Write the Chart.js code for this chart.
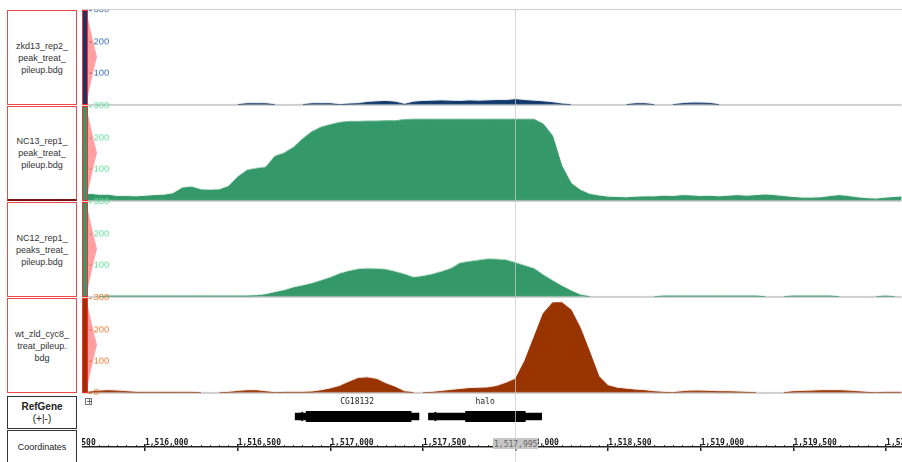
<!DOCTYPE html>
<html>
<head>
<meta charset="utf-8">
<script src="https://cdn.jsdelivr.net/npm/chart.js@4.4.1/dist/chart.umd.min.js"></script>
<style>
  html, body { margin: 0; padding: 0; width: 902px; height: 462px; overflow: hidden; background: #fff; }
  canvas { position: absolute; z-index: 1; }
  .abs { position: absolute; }
  #panel { position: absolute; left: 0; top: 0; width: 82px; height: 462px; background: #fff; z-index: 5; }
  .box { position: absolute; left: 7px; width: 70px; box-sizing: border-box; display: flex; align-items: center; justify-content: center; text-align: center; font-family: "Liberation Sans", sans-serif; font-size: 9px; line-height: 12px; color: #333; }
  .track { border: 1.5px solid #ec4848; }
</style>
</head>
<body>
<div id="panel"></div>
<script>
// genomic positions (bp) of the sampled coverage values
const positions = [
  1515650, 1515700, 1515750, 1515800, 1515850, 1515900, 1515950, 1516000, 1516050, 1516100,
  1516150, 1516200, 1516250, 1516300, 1516350, 1516400, 1516450, 1516500, 1516550, 1516600,
  1516650, 1516700, 1516750, 1516800, 1516850, 1516900, 1516950, 1517000, 1517050, 1517100,
  1517150, 1517200, 1517250, 1517300, 1517350, 1517400, 1517450, 1517500, 1517550, 1517600,
  1517650, 1517700, 1517750, 1517800, 1517850, 1517900, 1517950, 1518000, 1518050, 1518100,
  1518150, 1518200, 1518250, 1518300, 1518350, 1518400, 1518450, 1518500, 1518550, 1518600,
  1518650, 1518700, 1518750, 1518800, 1518850, 1518900, 1518950, 1519000, 1519050, 1519100,
  1519150, 1519200, 1519250, 1519300, 1519350, 1519400, 1519450, 1519500, 1519550, 1519600,
  1519650, 1519700, 1519750, 1519800, 1519850, 1519900, 1519950, 1520000, 1520050, 1520100
];

const zkd13Rep2 = [
  0, 0, 0, 0, 0, 0, 0, 0, 0, 0,
  0, 0, 0, 0, 0, 0, 0, 0, 3, 3,
  3, 0, 0, 0, 0, 3, 3, 3, 0, 2,
  3, 7, 9, 10, 8, 1, 8, 10, 11, 12,
  11, 10, 12, 11, 12, 13, 13, 16, 13, 11,
  9, 6, 2, 0, 0, 0, 0, 0, 0, 0,
  3, 3, 0, 0, 0, 3, 5, 5, 4, 0,
  0, 0, 0, 0, 0, 0, 0, 0, 0, 0,
  0, 0, 0, 0, 0, 0, 0, 0, 0, 0
];

const nc13Rep1 = [
  15, 20, 17, 17, 13, 13, 12, 14, 16, 17,
  22, 40, 43, 34, 33, 34, 45, 75, 96, 101,
  105, 140, 150, 168, 195, 218, 232, 240, 247, 250,
  250, 251, 251, 252, 252, 256, 257, 257, 257, 257,
  257, 257, 257, 257, 257, 257, 257, 257, 257, 257,
  242, 205, 110, 55, 33, 20, 15, 11, 10, 9,
  11, 12, 12, 14, 13, 16, 15, 13, 14, 12,
  14, 16, 14, 16, 18, 16, 13, 10, 8, 8,
  9, 13, 16, 13, 9, 6, 5, 8, 10, 12
];

const nc12Rep1 = [
  0, 0, 0, 2, 2, 2, 2, 2, 2, 2,
  2, 2, 2, 2, 2, 2, 2, 2, 2, 3,
  6, 13, 19, 28, 34, 41, 50, 60, 72, 80,
  86, 88, 87, 85, 78, 70, 60, 64, 70, 78,
  88, 105, 110, 114, 118, 117, 115, 106, 97, 88,
  68, 50, 33, 18, 5, 0, 0, 0, 0, 0,
  0, 0, 0, 2, 2, 2, 2, 2, 2, 2,
  2, 2, 2, 2, 0, 0, 0, 2, 2, 2,
  2, 2, 0, 0, 0, 0, 0, 2, 0, 0
];

const wtZldCyc8 = [
  0, 2, 5, 6, 5, 3, 1, 1, 1, 1,
  1, 1, 1, 0, 0, 0, 1, 4, 6, 6,
  3, 0, 1, 1, 1, 2, 6, 12, 20, 33,
  45, 47, 42, 28, 17, 3, 0, 0, 1, 4,
  7, 10, 13, 14, 15, 20, 30, 43, 100, 175,
  250, 284, 285, 262, 205, 130, 52, 22, 14, 11,
  8, 6, 3, 1, 0, 3, 5, 5, 4, 3,
  3, 2, 1, 0, 0, 0, 0, 3, 4, 5,
  6, 6, 6, 5, 3, 1, 0, 1, 1, 1
];

const yTickValues = [0, 100, 200, 300];

// RefGene models (both on the minus strand)
const geneNames = ['CG18132', 'halo'];
const geneTxStart = [1516795, 1517525];
const geneTxEnd = [1517473, 1518145];
const geneCdsStart = [1516855, 1517728];
const geneCdsEnd = [1517430, 1518055];

const coordTickValues = [1515500, 1516000, 1516500, 1517000, 1517500, 1518000, 1518500, 1519000, 1519500, 1520000];
const coordMinorStep = 50;
const cursorPos = 1517995;

const viewStart = 1515660;
const viewEnd = 1520086;

const tracks = [
  { name: ['zkd13_rep2_', 'peak_treat_', 'pileup.bdg'], values: zkd13Rep2, color: '#10386a', tick: '#3a6db0' },
  { name: ['NC13_rep1_', 'peak_treat_', 'pileup.bdg'], values: nc13Rep1, color: '#349868', tick: '#62e09c' },
  { name: ['NC12_rep1_', 'peaks_treat_', 'pileup.bdg'], values: nc12Rep1, color: '#349868', tick: '#62e09c' },
  { name: ['wt_zld_cyc8_', 'treat_pileup.', 'bdg'], values: wtZldCyc8, color: '#993300', tick: '#ea7c38' }
];
const trackTop = [10, 106, 202, 298];
const trackHeight = 94;

Chart.defaults.font.family = 'Liberation Sans';

const panel = document.getElementById('panel');

function addDiv(parent, cls, css, html) {
  const d = document.createElement('div');
  if (cls) d.className = cls;
  Object.assign(d.style, css);
  if (html) d.innerHTML = html;
  parent.appendChild(d);
  return d;
}

const trackCharts = tracks.map((t, i) => {
  const top = trackTop[i];
  const box = addDiv(panel, 'box track', { top: top + 'px', height: (trackHeight + 1) + 'px' }, t.name.join('<br>'));
  if (i === 1) box.style.borderBottom = '2px solid #7a1414';

  // colour strip and pink handle next to the data area
  addDiv(document.body, 'abs', {
    left: '86px', top: (top + 2) + 'px', width: '11px', height: (trackHeight - 4) + 'px',
    background: 'rgba(255,95,95,0.6)', zIndex: 3,
    clipPath: 'polygon(0 0, 20% 8%, 45% 22%, 75% 38%, 100% 50%, 75% 62%, 45% 78%, 20% 92%, 0 100%)'
  });
  addDiv(document.body, 'abs', {
    left: '82px', top: top + 'px', width: '6px', height: (trackHeight + 1) + 'px',
    boxSizing: 'border-box', border: '1px solid #ff2a2a', background: t.color, zIndex: 4
  });

  const canvas = document.createElement('canvas');
  canvas.width = 820;
  canvas.height = trackHeight + 30;
  canvas.style.left = '82px';
  document.body.appendChild(canvas);

  const showTick = (v) => !(v === 0 && i < 3);

  const chart = new Chart(canvas, {
    type: 'line',
    data: {
      datasets: [{
        data: positions.map((p, k) => ({ x: p, y: t.values[k] })),
        borderColor: t.color,
        backgroundColor: t.color,
        borderWidth: 1,
        fill: 'origin',
        pointRadius: 0,
        tension: 0,
        segment: {
          borderColor: (c) => (c.p0.parsed.y === 0 && c.p1.parsed.y === 0) ? 'rgba(0,0,0,0)' : t.color
        }
      }]
    },
    options: {
      responsive: false,
      maintainAspectRatio: false,
      animation: false,
      devicePixelRatio: 1,
      layout: { padding: 0 },
      plugins: { legend: { display: false }, tooltip: { enabled: false } },
      scales: {
        x: { type: 'linear', min: viewStart, max: viewEnd, display: false },
        y: {
          min: 0,
          max: 300,
          afterBuildTicks: (s) => { s.ticks = yTickValues.map((v) => ({ value: v })); },
          afterFit: (s) => { s.width = 0; },
          border: { display: false },
          grid: {
            drawTicks: false,
            lineWidth: 2,
            color: (c) => c.tick.value === 0 ? '#d0d0d0' : 'rgba(0,0,0,0)'
          },
          ticks: {
            mirror: true,
            padding: 11,
            color: t.tick,
            font: { size: 9.5 },
            callback: (v) => showTick(v) ? String(v) : ''
          }
        }
      }
    },
    plugins: [{
      id: 'tickDash',
      afterDraw(chart) {
        const ys = chart.scales.y;
        const ctx = chart.ctx;
        ctx.save();
        ctx.strokeStyle = t.tick;
        ctx.lineWidth = 1;
        ys.ticks.forEach((tk) => {
          if (!showTick(tk.value)) return;
          const py = Math.round(ys.getPixelForValue(tk.value)) + 0.5;
          ctx.beginPath();
          ctx.moveTo(7, py);
          ctx.lineTo(10, py);
          ctx.stroke();
        });
        ctx.restore();
      }
    }]
  });

  // fit the canvas so the plot area is exactly the track band
  const ca = chart.chartArea;
  const extraTop = ca.top;
  const extraBottom = canvas.height - ca.bottom;
  chart.resize(820, trackHeight + extraTop + extraBottom);
  canvas.style.top = (top - extraTop) + 'px';
  return chart;
});

// cover above the first track and the top rule
addDiv(document.body, 'abs', { left: '82px', top: '0px', width: '820px', height: '9px', background: '#fff', zIndex: 3 });
addDiv(document.body, 'abs', { left: '82px', top: '9px', width: '820px', height: '1px', background: '#cfcfcf', zIndex: 3 });

// RefGene track
addDiv(panel, 'box', { top: '396px', height: '33px', border: '1px solid #333', flexDirection: 'column' },
  '<div style="font-weight:bold;font-size:10px;line-height:12px;color:#222">RefGene</div>' +
  '<div style="font-size:10px;line-height:12px;color:#222">(+|-)</div>');
addDiv(document.body, 'abs', {
  left: '85px', top: '398px', width: '7px', height: '7px', boxSizing: 'border-box',
  border: '1px solid #777', background: '#fff', zIndex: 4,
  font: '8px "DejaVu Sans"', lineHeight: '5px', textAlign: 'center', color: '#444'
}, '+');

const geneCanvas = document.createElement('canvas');
geneCanvas.width = 820;
geneCanvas.height = 32;
geneCanvas.style.left = '82px';
geneCanvas.style.top = '396px';
document.body.appendChild(geneCanvas);

const bpPerPx = (viewEnd - viewStart) / 820;
const arrowRadius = 5;

new Chart(geneCanvas, {
  type: 'bar',
  data: {
    labels: ['RefGene'],
    datasets: [
      {
        data: geneNames.map((n, k) => ({ x: [geneTxStart[k], geneTxEnd[k]], y: 'RefGene' })),
        backgroundColor: '#000', barThickness: 7, grouped: false
      },
      {
        data: geneNames.map((n, k) => ({ x: [geneCdsStart[k], geneCdsEnd[k]], y: 'RefGene' })),
        backgroundColor: '#000', barThickness: 13, grouped: false
      },
      {
        type: 'scatter',
        data: geneNames.map((n, k) => ({ x: geneTxStart[k] + arrowRadius * bpPerPx, y: 'RefGene' })),
        pointStyle: 'triangle', rotation: 270, pointRadius: arrowRadius,
        backgroundColor: '#000', borderColor: '#000', borderWidth: 1
      }
    ]
  },
  options: {
    indexAxis: 'y',
    responsive: false,
    animation: false,
    devicePixelRatio: 1,
    layout: { padding: { top: 15, bottom: 0, left: 0, right: 0 } },
    plugins: { legend: { display: false }, tooltip: { enabled: false } },
    scales: {
      x: { type: 'linear', min: viewStart, max: viewEnd, display: false },
      y: { type: 'category', labels: ['RefGene'], display: false }
    }
  },
  plugins: [{
    id: 'geneLabels',
    afterDatasetsDraw(chart) {
      const xs = chart.scales.x;
      const ctx = chart.ctx;
      ctx.save();
      ctx.font = '8px "DejaVu Sans Mono"';
      ctx.fillStyle = '#222';
      ctx.textAlign = 'center';
      ctx.textBaseline = 'middle';
      geneNames.forEach((n, k) => {
        const cx = (xs.getPixelForValue(geneTxStart[k]) + xs.getPixelForValue(geneTxEnd[k])) / 2;
        ctx.fillText(n, cx, 5.5);
      });
      ctx.restore();
    }
  }]
});

// Coordinates track
addDiv(panel, 'box', { top: '430px', height: '40px', border: '1px solid #333', fontSize: '9px', paddingBottom: '6px', boxSizing: 'border-box', color: '#222' }, 'Coordinates');

const coordCanvas = document.createElement('canvas');
coordCanvas.width = 960;
coordCanvas.height = 21;
coordCanvas.style.left = '0px';
coordCanvas.style.top = '430px';
document.body.appendChild(coordCanvas);

const coordMin = viewStart - 82 * bpPerPx;
const coordMax = viewStart + (960 - 82) * bpPerPx;

new Chart(coordCanvas, {
  type: 'scatter',
  data: { datasets: [] },
  options: {
    responsive: false,
    animation: false,
    devicePixelRatio: 1,
    layout: { padding: 0 },
    plugins: { legend: { display: false }, tooltip: { enabled: false } },
    scales: {
      x: {
        type: 'linear',
        position: 'top',
        min: coordMin,
        max: coordMax,
        afterBuildTicks: (s) => { s.ticks = coordTickValues.map((v) => ({ value: v })); },
        afterFit: (s) => { s.height = 17; },
        border: { display: true, color: '#222', width: 1.5 },
        grid: { drawOnChartArea: true, tickLength: 3, color: '#222', lineWidth: 1.5 },
        ticks: {
          align: 'start',
          maxRotation: 0,
          autoSkip: false,
          padding: -4,
          color: '#1a1a1a',
          font: { family: 'DejaVu Sans Mono', size: 8, weight: 'bold' },
          callback: (v) => v.toLocaleString('en-US')
        }
      },
      y: { display: false }
    }
  },
  plugins: [{
    id: 'minorTicks',
    afterDraw(chart) {
      const xs = chart.scales.x;
      const ctx = chart.ctx;
      const y = chart.chartArea.top;
      ctx.save();
      ctx.fillStyle = '#333';
      for (let v = Math.ceil(coordMin / coordMinorStep) * coordMinorStep; v <= coordMax; v += coordMinorStep) {
        if (coordTickValues.includes(v)) continue;
        ctx.fillRect(Math.round(xs.getPixelForValue(v)), y - 2, 1, 1);
      }
      ctx.restore();
    }
  }]
});

// cursor line and readout
const cursorX = 82 + trackCharts[0].scales.x.getPixelForValue(cursorPos);
addDiv(document.body, 'abs', {
  left: Math.round(cursorX) + 'px', top: '9px', width: '1px', height: '453px',
  background: 'rgba(200,200,200,0.75)', zIndex: 4
});
addDiv(document.body, 'abs', {
  left: Math.round(cursorX - 22) + 'px', top: '438px', height: '11px', padding: '0 1px',
  background: '#c6c6c6', color: '#666', zIndex: 6,
  font: '8px "DejaVu Sans Mono"', lineHeight: '13px'
}, cursorPos.toLocaleString('en-US'));
</script>
</body>
</html>
